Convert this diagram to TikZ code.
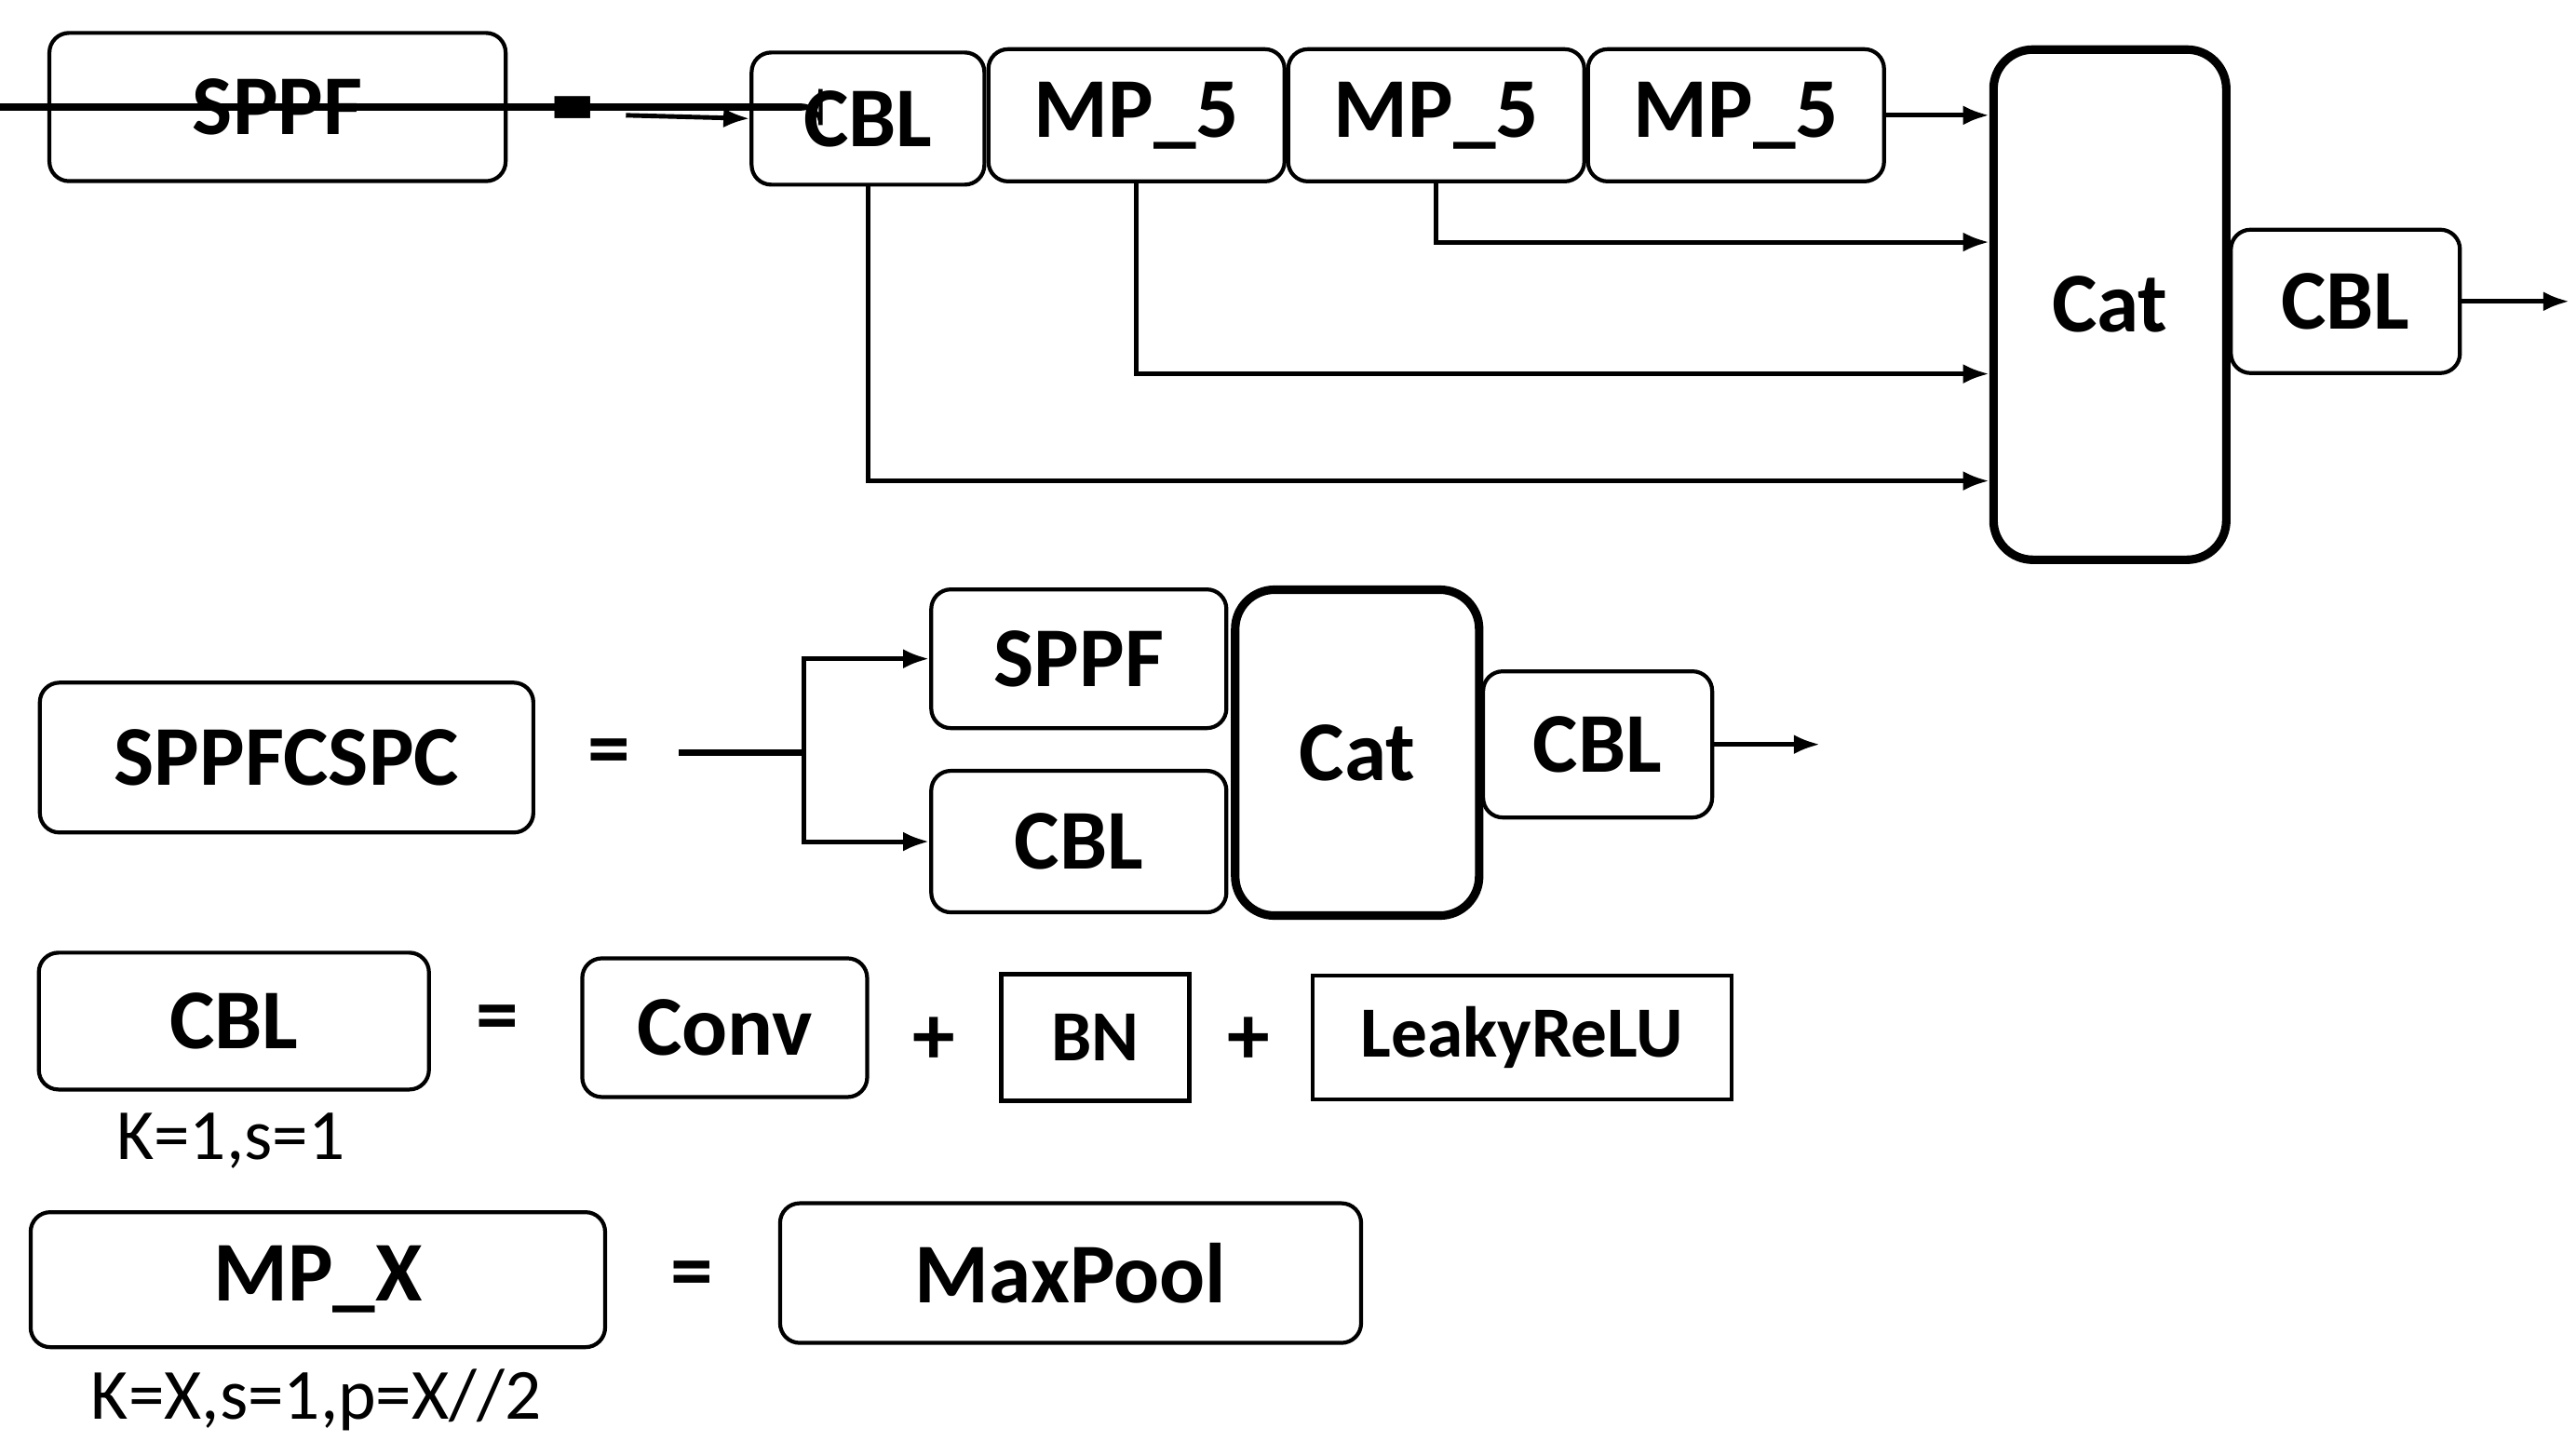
\documentclass[tikz,border=0pt]{standalone}
\usepackage{fontspec}
\setmainfont{Carlito}
\usetikzlibrary{arrows.meta}
\begin{document}
\begin{tikzpicture}[
    x=0.1769mm, y=-0.1769mm,
    blk/.style={draw, line width=1.2pt, rounded corners=6pt, inner sep=0pt, font=\fontsize{26}{28}\selectfont\bfseries},
    catblk/.style={blk, line width=2.6pt, rounded corners=12pt},
    sq/.style={draw, line width=1.2pt, inner sep=0pt, font=\fontsize{22}{24}\selectfont\bfseries},
    eq/.style={font=\fontsize{26}{28}\selectfont\bfseries},
    note/.style={font=\fontsize{22}{24}\selectfont},
    arr/.style={-{Latex[length=8pt,width=6pt]}, line width=1.4pt}
]
\useasboundingbox (0,0) rectangle (1564,883);

% === SPPF ===
\node[blk, minimum width=277\pgflinewidth] (sppf) at (168,65) {};
\draw[blk] (30,20) rectangle node {SPPF} (307,110);
\node[eq] (eqa) at (348,70) {=};
\coordinate (ina) at (380,70);
\node[blk, minimum width=25mm, minimum height=14.2mm] (cbla) at (527,72) {CBL};
\node[blk, minimum width=31.8mm, minimum height=14.2mm] (mpa) at (690,70) {MP\_5};
\node[blk, minimum width=31.8mm, minimum height=14.2mm] (mpb) at (872,70) {MP\_5};
\node[blk, minimum width=31.8mm, minimum height=14.2mm] (mpc) at (1054,70) {MP\_5};
\node[catblk, minimum width=25mm, minimum height=54.8mm] (cata) at (1281,185) {Cat};
\node[blk, minimum width=24.6mm, minimum height=15.4mm] (cblb) at (1424,183) {CBL};
\coordinate (outa) at (1560,183);

\draw[arr] (ina) -- (cbla.west);
\draw[arr] (mpc.east) -- (cata.west |- mpc.east);
\draw[arr] (mpb.south) |- (cata.west |- 0,147);
\draw[arr] (mpa.south) |- (cata.west |- 0,227);
\draw[arr] (cbla.south) |- (cata.west |- 0,292);
\draw[arr] (cblb.east) -- (outa);

% === SPPFCSPC ===
\node[blk, minimum width=53mm, minimum height=16.1mm] (csp) at (174,460) {SPPFCSPC};
\node[eq] (eqb) at (370,460) {=};
\coordinate (inb) at (412,457);
\coordinate (split) at (488,457);
\node[blk, minimum width=31.7mm, minimum height=14.9mm] (sppfb) at (655,400) {SPPF};
\node[blk, minimum width=31.7mm, minimum height=15.2mm] (cblc) at (655,511) {CBL};
\node[catblk, minimum width=26.2mm, minimum height=35mm] (catb) at (824,457) {Cat};
\node[blk, minimum width=24.6mm, minimum height=15.7mm] (cbld) at (970,452) {CBL};
\coordinate (outb) at (1105,452);

\draw[line width=2pt] (inb) -- (split);
\draw[arr] (split) |- (sppfb.west);
\draw[arr] (split) |- (cblc.west);
\draw[arr] (cbld.east) -- (outb);

% === CBL ===
\node[blk, minimum width=41.9mm, minimum height=14.7mm] (cble) at (142,620) {CBL};
\node[note] (kcbl) at (140,693) {K=1,s=1};
\node[eq] (eqc) at (302,622) {=};
\node[blk, minimum width=30.6mm, minimum height=14.9mm] (conv) at (440,624) {Conv};
\node[eq] (plusa) at (567,632) {+};
\node[sq, minimum width=20.2mm, minimum height=13.6mm] (bn) at (665,630) {BN};
\node[eq] (plusb) at (758,632) {+};
\node[sq, minimum width=45mm, minimum height=13.3mm] (leaky) at (924,630) {LeakyReLU};

% === MP_X ===
\node[blk, minimum width=61.7mm, minimum height=14.5mm] (mpx) at (193,777) {MP\_X};
\node[note] (kmp) at (192,850) {K=X,s=1,p=X//2};
\node[eq] (eqd) at (420,777) {=};
\node[blk, minimum width=62.4mm, minimum height=15mm] (maxp) at (650,773) {MaxPool};
\end{tikzpicture}
\end{document}
